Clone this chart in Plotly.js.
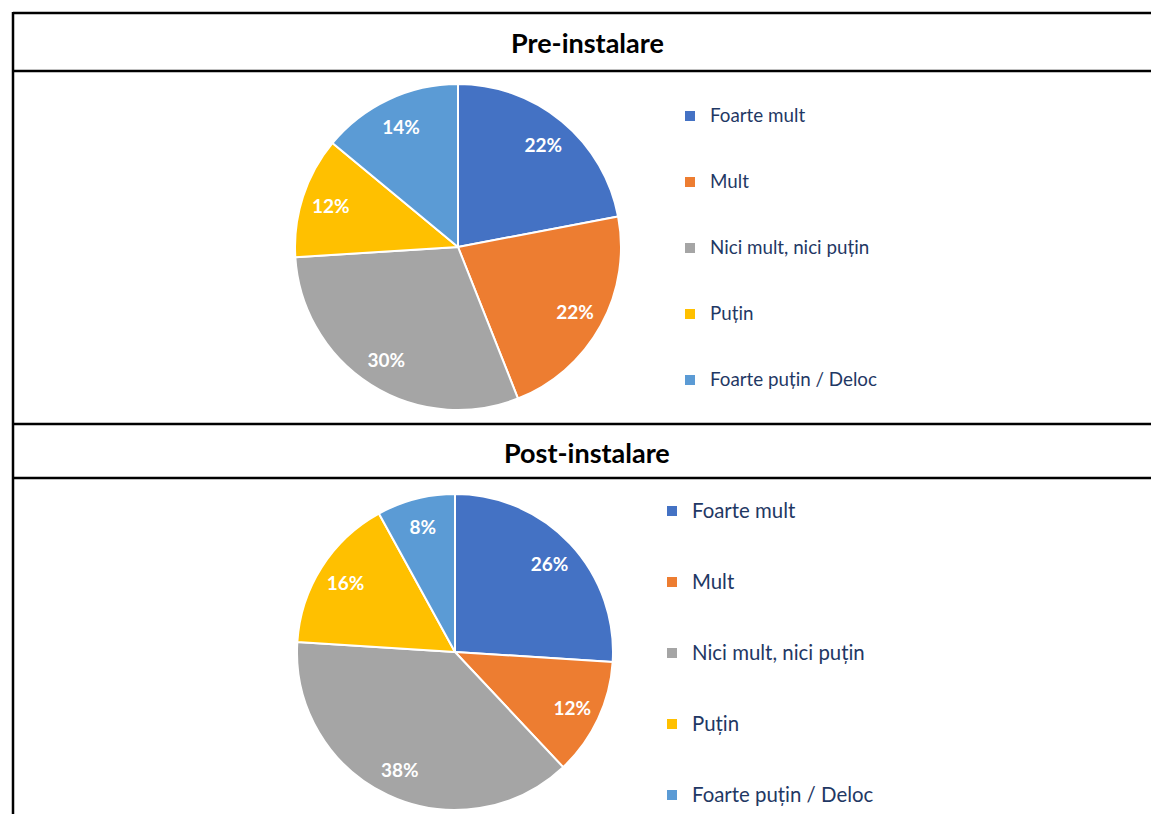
<!DOCTYPE html>
<html>
<head>
<meta charset="utf-8">
<script src="https://cdn.plot.ly/plotly-3.0.1.min.js"></script>
<style>html,body{margin:0;padding:0;background:#fff;}#chart{width:1151px;height:814px;}</style>
</head>
<body>
<div id="chart"></div>
<script>
// ---- data ----
const categories = ['Foarte mult', 'Mult', 'Nici mult, nici puțin', 'Puțin', 'Foarte puțin / Deloc'];
const preValues = [22, 22, 30, 12, 14];
const postValues = [26, 12, 38, 16, 8];
const sliceColors = ['#4472C4', '#ED7D31', '#A5A5A5', '#FFC000', '#5B9BD5'];
const panelTitles = ['Pre-instalare', 'Post-instalare'];

const W = 1151, H = 814;
const FONT = 'Lato, Carlito, "Open Sans", sans-serif';
const px = (v) => v / W;
const py = (v) => 1 - v / H;

// two blank lines above each entry give the tall row spacing of the original legend
function legendLabels(size) {
  return categories.map(c => '\u00a0<br>\u00a0<br><span style="font-size:' + size + 'px">' + c + '</span>');
}

const dom1 = {x: [px(295), px(621)], y: [py(410), py(84)]};
const dom2 = {x: [px(297), px(613)], y: [py(810), py(494)]};

function basePie(values, dom, legendId, labelSize) {
  return {
    type: 'pie',
    labels: legendLabels(labelSize),
    values: values,
    domain: dom,
    sort: false,
    direction: 'clockwise',
    rotation: 0,
    marker: {colors: sliceColors, line: {color: '#ffffff', width: 2}},
    textinfo: 'none',
    hoverinfo: 'skip',
    legend: legendId
  };
}
function textPie(values, dom, legendId) {
  return {
    type: 'pie',
    labels: categories,
    values: values,
    domain: dom,
    sort: false,
    direction: 'clockwise',
    rotation: 0,
    hole: 0.64,
    marker: {colors: categories.map(() => 'rgba(0,0,0,0)'), line: {width: 0}},
    textinfo: 'percent',
    textposition: 'inside',
    insidetextorientation: 'horizontal',
    textfont: {family: FONT, size: 19, color: '#ffffff', weight: 'bold'},
    hoverinfo: 'skip',
    showlegend: false,
    legend: legendId
  };
}

const data = [
  basePie(preValues, dom1, 'legend', 18.8),
  basePie(postValues, dom2, 'legend2', 20.4),
  textPie(preValues, dom1, 'legend'),
  textPie(postValues, dom2, 'legend2')
];

const lineStyle = {color: '#000000', width: 2.5};
const shapes = [
  {type: 'line', xref: 'paper', yref: 'paper', x0: px(13), x1: 1, y0: py(13), y1: py(13), line: lineStyle},
  {type: 'line', xref: 'paper', yref: 'paper', x0: px(13), x1: 1, y0: py(71), y1: py(71), line: lineStyle},
  {type: 'line', xref: 'paper', yref: 'paper', x0: px(13), x1: 1, y0: py(424), y1: py(424), line: lineStyle},
  {type: 'line', xref: 'paper', yref: 'paper', x0: px(13), x1: 1, y0: py(478), y1: py(478), line: lineStyle},
  {type: 'line', xref: 'paper', yref: 'paper', x0: px(13), x1: px(13), y0: py(12), y1: 0, line: lineStyle}
];

const annotations = [
  {text: panelTitles[0], xref: 'paper', yref: 'paper', x: px(587), y: py(43), showarrow: false,
   xanchor: 'center', yanchor: 'middle', font: {family: FONT, size: 27, color: '#000000', weight: 'bold'}},
  {text: panelTitles[1], xref: 'paper', yref: 'paper', x: px(587), y: py(452), showarrow: false,
   xanchor: 'center', yanchor: 'middle', font: {family: FONT, size: 27, color: '#000000', weight: 'bold'}}
];

const layout = {
  width: W, height: H,
  margin: {l: 0, r: 0, t: 0, b: 0},
  paper_bgcolor: '#ffffff',
  plot_bgcolor: '#ffffff',
  font: {family: FONT},
  showlegend: true,
  legend: {
    xref: 'paper', yref: 'paper', x: px(670), y: py(57), xanchor: 'left', yanchor: 'top',
    valign: 'bottom',
    font: {family: FONT, size: 16.15, color: '#1F3864'}, bgcolor: 'rgba(0,0,0,0)', traceorder: 'normal'
  },
  legend2: {
    xref: 'paper', yref: 'paper', x: px(652), y: py(447.8), xanchor: 'left', yanchor: 'top',
    valign: 'bottom',
    font: {family: FONT, size: 17.44, color: '#1F3864'}, bgcolor: 'rgba(0,0,0,0)', traceorder: 'normal'
  },
  shapes: shapes,
  annotations: annotations
};

Plotly.newPlot('chart', data, layout, {displayModeBar: false, staticPlot: true});
</script>
</body>
</html>
